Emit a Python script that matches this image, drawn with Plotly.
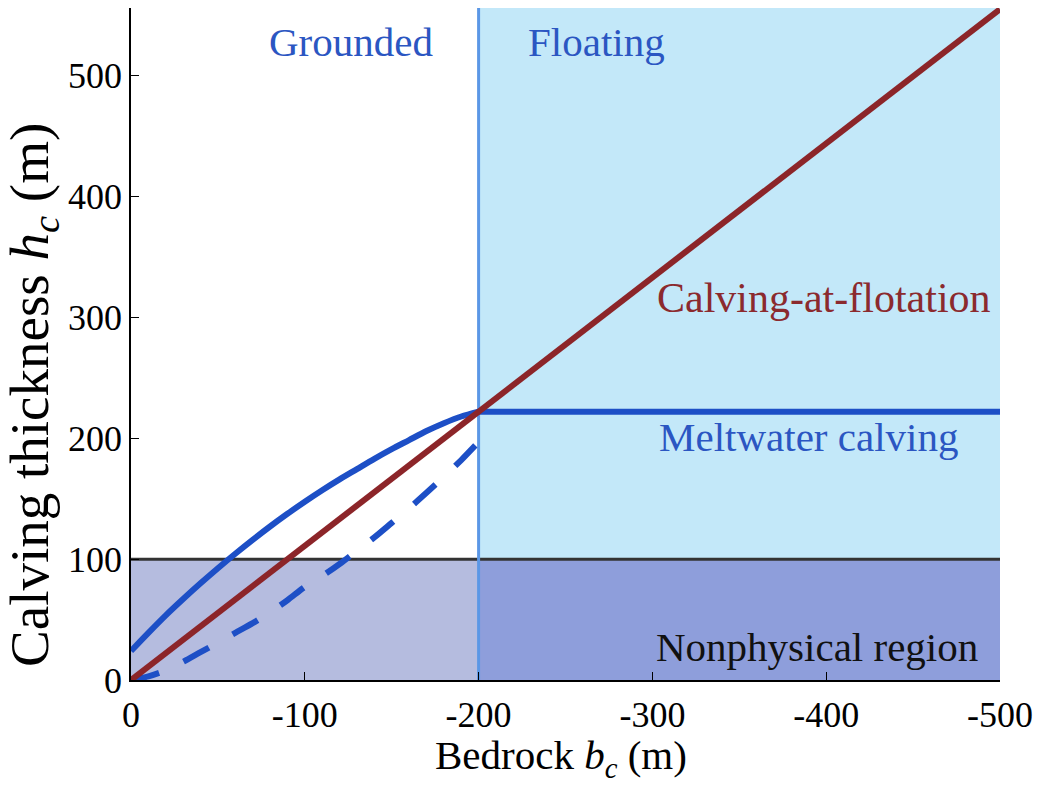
import plotly.graph_objects as go

# Bedrock elevation at the calving front (m) and calving thickness (m)
bedrock_grounded = [0, -10, -20, -30, -40, -50, -60, -70, -80, -90, -100,
                    -110, -120, -130, -140, -150, -160, -170, -180, -190, -200]
meltwater_grounded = [24, 39, 53.5, 67, 80, 92.5, 104.5, 116, 127, 137.5, 147.5,
                      157, 166, 174.5, 183, 191, 198.5, 206, 212.5, 218, 222]
meltwater_alt = [0, 3, 8, 15, 23, 31, 39, 47, 56, 66, 77,
                 86, 96, 107, 118, 130, 142, 155, 168, 182, 197]
bedrock_floating = [-200, -500]
meltwater_floating = [222, 222]
flotation_bedrock = [0, -500]
flotation_thickness = [0, 555]

grounding_bedrock = -200
nonphysical_limit = 100
x_limits = [0, -500]
y_limits = [0, 556]

x_ticks = [0, -100, -200, -300, -400, -500]
x_tick_labels = ["0", "-100", "-200", "-300", "-400", "-500"]
y_ticks = [0, 100, 200, 300, 400, 500]
y_tick_labels = ["0", "100", "200", "300", "400", "500"]

FONT = "'Liberation Serif', 'Times New Roman', Times, serif"
BLUE = "#1d4fc6"
RED = "#8c2529"

fig = go.Figure()

# shaded regions and boundaries
shapes = [
    dict(type="rect", xref="x", yref="y", layer="below", line_width=0,
         x0=grounding_bedrock, x1=x_limits[1], y0=nonphysical_limit, y1=y_limits[1],
         fillcolor="#c3e8f9"),
    dict(type="rect", xref="x", yref="y", layer="below", line_width=0,
         x0=x_limits[0], x1=grounding_bedrock, y0=0, y1=nonphysical_limit,
         fillcolor="#b5bcdf"),
    dict(type="rect", xref="x", yref="y", layer="below", line_width=0,
         x0=grounding_bedrock, x1=x_limits[1], y0=0, y1=nonphysical_limit,
         fillcolor="#8e9edb"),
    dict(type="line", xref="x", yref="y", layer="below",
         x0=x_limits[0], x1=x_limits[1], y0=nonphysical_limit, y1=nonphysical_limit,
         line=dict(color="#333333", width=3)),
    dict(type="line", xref="x", yref="y", layer="below",
         x0=grounding_bedrock, x1=grounding_bedrock, y0=0, y1=y_limits[1],
         line=dict(color="#5b97e6", width=3)),
]

# alternative meltwater curve (dashed)
fig.add_trace(go.Scatter(
    x=bedrock_grounded, y=meltwater_alt, mode="lines",
    line=dict(color=BLUE, width=6, dash="29px,27px", shape="spline", smoothing=0.8),
    hoverinfo="skip"))
# meltwater calving: grounded part and floating plateau
fig.add_trace(go.Scatter(
    x=bedrock_grounded, y=meltwater_grounded, mode="lines",
    line=dict(color=BLUE, width=6, shape="spline", smoothing=0.8),
    hoverinfo="skip"))
fig.add_trace(go.Scatter(
    x=bedrock_floating, y=meltwater_floating, mode="lines",
    line=dict(color=BLUE, width=6), hoverinfo="skip"))
# calving at flotation
fig.add_trace(go.Scatter(
    x=flotation_bedrock, y=flotation_thickness, mode="lines",
    line=dict(color=RED, width=6), hoverinfo="skip"))

labels = [
    ("Grounded", -126.5, 528, "#2b56c2"),
    ("Floating", -268, 528, "#2b56c2"),
    ("Calving-at-flotation", -398.5, 316, "#8b2a2e"),
    ("Meltwater calving", -390, 201, "#2b56c2"),
    ("Nonphysical region", -394.5, 27, "#111111"),
]
annotations = [
    dict(text=t, x=x, y=y, xref="x", yref="y", showarrow=False,
         xanchor="center", yanchor="middle",
         font=dict(family=FONT, size=42 if t.startswith("Calving") else 41, color=c))
    for t, x, y, c in labels
]

# axis titles
annotations += [
    dict(text="Bedrock <i>b</i><sub><i>c</i></sub> (m)",
         x=0.495, y=-0.158, xref="paper", yref="paper", showarrow=False,
         xanchor="center", yanchor="bottom",
         font=dict(family=FONT, size=41, color="black")),
    dict(text="Calving thickness <i>h</i><sub><i>c</i></sub> (m)",
         x=-0.113, y=0.424, xref="paper", yref="paper", showarrow=False,
         xanchor="center", yanchor="middle", textangle=-90,
         font=dict(family=FONT, size=55, color="black")),
]

axis_common = dict(
    showgrid=False, zeroline=False, showline=True, linecolor="black", linewidth=1.5,
    ticks="inside", ticklen=8, tickwidth=1.2, tickcolor="black", automargin=False,
    tickfont=dict(family=FONT, size=36, color="black"),
)

fig.update_layout(
    width=1038, height=787,
    margin=dict(l=131, r=38, t=8, b=107),
    paper_bgcolor="white", plot_bgcolor="white",
    showlegend=False,
    font=dict(family=FONT),
    shapes=shapes,
    annotations=annotations,
    xaxis=dict(range=x_limits, tickvals=x_ticks, ticktext=x_tick_labels,
               ticklabelstandoff=2, **axis_common),
    yaxis=dict(range=y_limits, tickvals=y_ticks, ticktext=y_tick_labels,
               **axis_common),
)

fig.write_html("out.html")
